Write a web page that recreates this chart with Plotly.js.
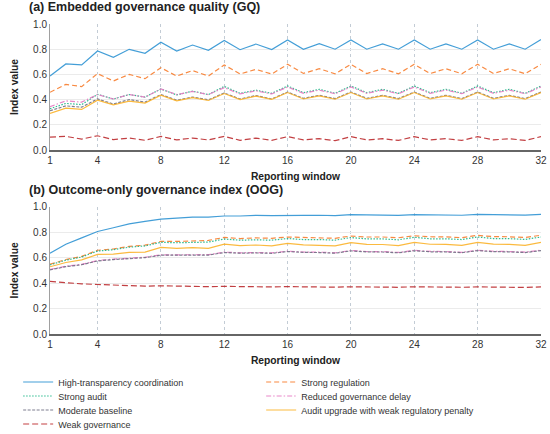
<!DOCTYPE html>
<html>
<head>
<meta charset="utf-8">
<script src="https://cdn.plot.ly/plotly-3.0.1.min.js"></script>
<style>html,body{margin:0;padding:0;background:#fff;}#chart{width:550px;height:434px;}</style>
</head>
<body>
<div id="chart"></div>
<script>
var windows = [];
for (var i = 1; i <= 32; i++) windows.push(i);
var tickVals = [1, 4, 8, 12, 16, 20, 24, 28, 32];

var seriesNames = ["High-transparency coordination", "Strong regulation", "Strong audit", "Reduced governance delay", "Moderate baseline", "Audit upgrade with weak regulatory penalty", "Weak governance"];

// Panel (a): Embedded governance quality (GQ)
var HT_a = [0.587,0.683,0.675,0.786,0.735,0.799,0.767,0.855,0.786,0.833,0.791,0.870,0.796,0.841,0.797,0.873,0.799,0.844,0.800,0.873,0.800,0.842,0.800,0.873,0.800,0.842,0.800,0.873,0.800,0.842,0.800,0.876];
var SR_a = [0.458,0.521,0.503,0.606,0.548,0.600,0.566,0.653,0.587,0.630,0.587,0.675,0.603,0.640,0.603,0.680,0.608,0.645,0.605,0.680,0.607,0.645,0.605,0.680,0.607,0.645,0.605,0.680,0.607,0.645,0.605,0.680];
var SA_a = [0.328,0.370,0.360,0.442,0.405,0.440,0.420,0.484,0.437,0.467,0.440,0.505,0.450,0.475,0.450,0.508,0.455,0.482,0.450,0.508,0.455,0.482,0.450,0.508,0.455,0.482,0.450,0.508,0.455,0.482,0.450,0.508];
var RD_a = [0.344,0.390,0.380,0.440,0.405,0.440,0.420,0.484,0.440,0.465,0.440,0.495,0.445,0.470,0.445,0.500,0.450,0.475,0.447,0.500,0.450,0.475,0.447,0.500,0.450,0.475,0.447,0.500,0.450,0.475,0.447,0.500];
var MB_a = [0.312,0.350,0.340,0.405,0.365,0.400,0.380,0.440,0.395,0.420,0.398,0.452,0.405,0.432,0.405,0.460,0.410,0.434,0.408,0.460,0.410,0.434,0.408,0.460,0.410,0.434,0.408,0.460,0.410,0.434,0.408,0.460];
var AU_a = [0.291,0.332,0.322,0.395,0.358,0.388,0.372,0.435,0.390,0.415,0.393,0.448,0.400,0.428,0.402,0.456,0.405,0.430,0.403,0.456,0.405,0.430,0.403,0.456,0.405,0.430,0.403,0.456,0.405,0.430,0.403,0.456];
var WG_a = [0.103,0.108,0.087,0.113,0.082,0.095,0.077,0.108,0.080,0.095,0.080,0.108,0.077,0.095,0.077,0.106,0.080,0.090,0.074,0.106,0.080,0.090,0.076,0.106,0.080,0.090,0.076,0.106,0.080,0.090,0.076,0.106];

// Panel (b): Outcome-only governance index (OOG)
var HT_b = [0.635,0.705,0.755,0.805,0.835,0.865,0.885,0.903,0.910,0.918,0.918,0.927,0.927,0.932,0.930,0.933,0.932,0.933,0.930,0.938,0.935,0.935,0.932,0.938,0.936,0.935,0.933,0.939,0.937,0.936,0.934,0.940];
var SR_b = [0.548,0.585,0.610,0.658,0.668,0.688,0.698,0.727,0.727,0.732,0.735,0.759,0.750,0.755,0.752,0.762,0.758,0.757,0.752,0.770,0.762,0.762,0.756,0.772,0.764,0.763,0.757,0.775,0.765,0.764,0.758,0.776];
var SA_b = [0.543,0.580,0.605,0.652,0.662,0.682,0.692,0.720,0.717,0.722,0.722,0.746,0.737,0.740,0.737,0.750,0.742,0.742,0.737,0.758,0.747,0.747,0.740,0.760,0.748,0.748,0.742,0.762,0.750,0.749,0.743,0.762];
var RD_b = [0.507,0.532,0.547,0.577,0.588,0.598,0.603,0.622,0.622,0.627,0.623,0.643,0.638,0.640,0.637,0.651,0.644,0.643,0.638,0.656,0.648,0.647,0.641,0.657,0.649,0.648,0.642,0.658,0.650,0.648,0.643,0.658];
var MB_b = [0.504,0.529,0.544,0.574,0.585,0.595,0.600,0.619,0.619,0.624,0.620,0.640,0.635,0.637,0.634,0.648,0.641,0.640,0.635,0.653,0.645,0.644,0.638,0.654,0.646,0.645,0.639,0.655,0.647,0.645,0.640,0.655];
var AU_b = [0.528,0.562,0.582,0.625,0.628,0.642,0.643,0.680,0.673,0.678,0.673,0.706,0.695,0.699,0.693,0.712,0.700,0.698,0.692,0.718,0.704,0.703,0.694,0.720,0.705,0.704,0.696,0.720,0.706,0.704,0.697,0.720];
var WG_b = [0.413,0.402,0.394,0.389,0.384,0.380,0.376,0.379,0.375,0.374,0.372,0.374,0.371,0.372,0.370,0.372,0.370,0.370,0.368,0.371,0.369,0.369,0.367,0.371,0.369,0.368,0.367,0.370,0.368,0.368,0.366,0.370];

var seriesA = [HT_a, SR_a, SA_a, RD_a, MB_a, AU_a, WG_a];
var seriesB = [HT_b, SR_b, SA_b, RD_b, MB_b, AU_b, WG_b];

var styles = [
  {color: "#2f93d3", dash: "solid"},
  {color: "#f77d2e", dash: "5px,3px"},
  {color: "#19b584", dash: "1.5px,1.5px"},
  {color: "#e67ac2", dash: "5px,2px,1.5px,2px"},
  {color: "#707084", dash: "3px,1.5px"},
  {color: "#fbb32a", dash: "solid"},
  {color: "#bb2a2e", dash: "6px,3px"}
];
// legend row for each series (two columns, filled row by row)
var legendRow = ["legend", "legend", "legend2", "legend2", "legend3", "legend3", "legend4"];

var traces = [];
seriesA.forEach(function (ys, k) {
  traces.push({x: windows, y: ys, type: "scatter", mode: "lines", name: seriesNames[k],
    xaxis: "x", yaxis: "y", opacity: 0.9, showlegend: true, legend: legendRow[k],
    line: {color: styles[k].color, dash: styles[k].dash, width: 1.2}});
});
seriesB.forEach(function (ys, k) {
  traces.push({x: windows, y: ys, type: "scatter", mode: "lines", name: seriesNames[k],
    xaxis: "x2", yaxis: "y2", opacity: 0.9, showlegend: false,
    line: {color: styles[k].color, dash: styles[k].dash, width: 1.2}});
});

var fontFam = "Liberation Sans, Arial, sans-serif";
function xax(anchor) {
  return {anchor: anchor, range: [1, 32], tickvals: tickVals, ticktext: tickVals.map(String),
    showgrid: true, gridcolor: "#c3ccd5", griddash: "3px,3px", gridwidth: 1,
    showline: true, linecolor: "#666", linewidth: 1.6, zeroline: false, ticks: "",
    tickfont: {size: 10, color: "#333"}, automargin: false,
    title: {text: "<b>Reporting window</b>", font: {size: 10.3, color: "#222"}, standoff: 8}};
}
function yax(anchor, dom) {
  return {anchor: anchor, domain: dom, range: [0, 1], tickvals: [0, 0.2, 0.4, 0.6, 0.8, 1.0],
    ticktext: ["0.0", "0.2", "0.4", "0.6", "0.8", "1.0"],
    showgrid: true, gridcolor: "#ebebeb", gridwidth: 1, zeroline: false,
    showline: true, linecolor: "#a0a0a0", linewidth: 1, ticks: "",
    tickfont: {size: 10, color: "#333"}, automargin: false,
    title: {text: "<b>Index value</b>", font: {size: 10.3, color: "#222"}, standoff: 12}};
}
function leg(rowY) {
  return {orientation: "h", xref: "container", yref: "container", x: 0.033, xanchor: "left",
    y: rowY, yanchor: "middle", entrywidth: 198, entrywidthmode: "pixels",
    font: {size: 9, color: "#333"}, itemwidth: 30, traceorder: "normal",
    bgcolor: "rgba(0,0,0,0)", borderwidth: 0};
}

var layout = {
  width: 550, height: 434,
  margin: {l: 49.5, r: 9, t: 24, b: 100, autoexpand: false},
  paper_bgcolor: "#fff", plot_bgcolor: "#fff",
  font: {family: fontFam, color: "#222"},
  xaxis: xax("y"),
  yaxis: yax("x", [0.5935, 1]),
  xaxis2: xax("y2"),
  yaxis2: yax("x2", [0, 0.4106]),
  showlegend: true,
  legend: leg(1 - 382 / 434),
  legend2: leg(1 - 396 / 434),
  legend3: leg(1 - 410 / 434),
  legend4: leg(1 - 424 / 434),
  annotations: [
    {text: "<b>(a) Embedded governance quality (GQ)</b>", xref: "paper", yref: "paper",
     x: -0.046, y: 1, yshift: 8, xanchor: "left", yanchor: "bottom", showarrow: false,
     font: {size: 12.5, color: "#222"}},
    {text: "<b>(b) Outcome-only governance index (OOG)</b>", xref: "paper", yref: "paper",
     x: -0.046, y: 0.4106, yshift: 8, xanchor: "left", yanchor: "bottom", showarrow: false,
     font: {size: 12.5, color: "#222"}}
  ]
};

Plotly.newPlot("chart", traces, layout, {displayModeBar: false, staticPlot: true});
</script>
</body>
</html>
